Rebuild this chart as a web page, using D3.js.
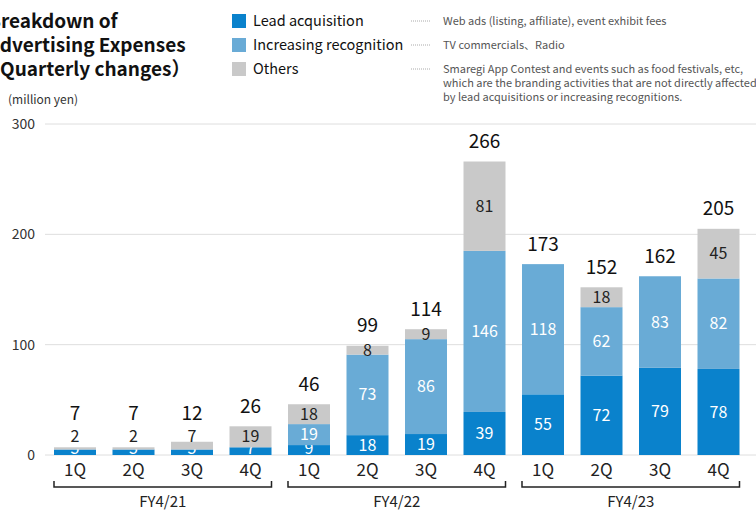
<!DOCTYPE html>
<html><head><meta charset="utf-8">
<script src="https://cdn.jsdelivr.net/npm/d3@7"></script>
<style>
html,body{margin:0;padding:0;background:#fff;}
svg{display:block;font-family:"Noto Sans CJK JP","Noto Sans",sans-serif;}
</style></head>
<body><svg id="c" width="756" height="512"></svg>
<script>
const quarters = ["1Q","2Q","3Q","4Q","1Q","2Q","3Q","4Q","1Q","2Q","3Q","4Q"];
const fiscalYears = ["FY4/21","FY4/22","FY4/23"];
const leadAcq = [5,5,5,7,9,18,19,39,55,72,79,78];
const recog = [0,0,0,0,19,73,86,146,118,62,83,82];
const others = [2,2,7,19,18,8,9,81,0,18,0,45];
const totals = [7,7,12,26,46,99,114,266,173,152,162,205];
const yTicks = [0,100,200,300];
const seriesNames = ["Lead acquisition","Increasing recognition","Others"];
const seriesDesc = [
  ["Web ads (listing, affiliate), event exhibit fees"],
  ["TV commercials、Radio"],
  ["Smaregi App Contest and events such as food festivals, etc,",
   "which are the branding activities that are not directly affected",
   "by lead acquisitions or increasing recognitions."]
];
const colors = ["#0a82cc","#69abd6","#c9c9c9"];
const labelColors = ["#ffffff","#ffffff","#222222"];

const svg = d3.select("#c");
const idx = d3.range(quarters.length);
const x = d3.scaleBand().domain(idx).range([45.75,747.75]).paddingInner(0.282).paddingOuter(0.141);
const y = d3.scaleLinear().domain([0,300]).range([455,124]);

// gridlines
svg.append("g").selectAll("line").data(yTicks).join("line")
  .attr("x1",45).attr("x2",756).attr("y1",d=>y(d)).attr("y2",d=>y(d))
  .attr("stroke","#dedede").attr("stroke-width",1);
svg.append("g").selectAll("text").data(yTicks).join("text")
  .attr("x",35).attr("y",d=>y(d)).attr("dy","0.35em").attr("text-anchor","end")
  .attr("font-size",14).attr("fill","#333").text(d=>d);

svg.append("text").attr("x",8).attr("y",100).attr("dy","0.35em")
  .attr("font-size",12).attr("fill","#333").text("(million yen)");

// stacked bars
const table = idx.map(i=>({i, s0:leadAcq[i], s1:recog[i], s2:others[i]}));
const stack = d3.stack().keys(["s0","s1","s2"])(table);
const lastLabelY = idx.map(()=>Infinity);
stack.forEach((layer,k)=>{
  const g = svg.append("g");
  g.selectAll("rect").data(layer).join("rect")
    .attr("x",d=>x(d.data.i)).attr("width",x.bandwidth())
    .attr("y",d=>y(d[1])).attr("height",d=>y(d[0])-y(d[1]))
    .attr("fill",colors[k]);
  const shown = layer.filter(d=>d[1]-d[0]>0).map(d=>{
    const i = d.data.i;
    const ly = Math.min((y(d[0])+y(d[1]))/2, y(0)-7, lastLabelY[i]-12);
    lastLabelY[i] = ly;
    return {d, ly};
  });
  g.selectAll("text").data(shown).join("text")
    .attr("x",o=>x(o.d.data.i)+x.bandwidth()/2)
    .attr("y",o=>o.ly)
    .attr("dy","0.35em").attr("text-anchor","middle")
    .attr("font-size",16).attr("fill",labelColors[k])
    .text(o=>o.d[1]-o.d[0]);
});

// totals
svg.append("g").selectAll("text").data(idx).join("text")
  .attr("x",i=>x(i)+x.bandwidth()/2)
  .attr("y",i=>Math.min(y(totals[i])-20, y(0)-42))
  .attr("dy","0.35em").attr("text-anchor","middle")
  .attr("font-size",19).attr("fill","#111").text(i=>totals[i]);

// quarter labels
svg.append("g").selectAll("text").data(idx).join("text")
  .attr("x",i=>x(i)+x.bandwidth()/2).attr("y",470).attr("dy","0.35em")
  .attr("text-anchor","middle").attr("font-size",17).attr("fill","#222")
  .text(i=>quarters[i]);

// brackets
fiscalYears.forEach((fy,j)=>{
  const x0 = x(j*4), x1 = x(j*4+3)+x.bandwidth();
  svg.append("path").attr("d",`M${x0},481V487H${x1}V481`)
    .attr("fill","none").attr("stroke","#222").attr("stroke-width",1.5);
  svg.append("text").attr("x",(x0+x1)/2).attr("y",502).attr("dy","0.35em")
    .attr("text-anchor","middle").attr("font-size",15).attr("fill","#222").text(fy);
});

// title
const titleLines = [["Breakdown of",-12],["Advertising Expenses",-12.5],["（Quarterly changes）",-19]];
titleLines.forEach((t,k)=>{
  svg.append("text").attr("x",t[1]).attr("y",21+k*24).attr("dy","0.35em")
    .attr("font-size",19).attr("font-weight","bold").attr("fill","#111").text(t[0]);
});

// legend
seriesNames.forEach((n,k)=>{
  const cy = 21+k*24;
  svg.append("rect").attr("x",232).attr("y",cy-7).attr("width",14).attr("height",14).attr("fill",colors[k]);
  svg.append("text").attr("x",253).attr("y",cy).attr("dy","0.35em")
    .attr("font-size",14.5).attr("fill","#111").text(n);
  svg.append("line").attr("x1",411).attr("x2",430).attr("y1",cy).attr("y2",cy)
    .attr("stroke","#aaa").attr("stroke-width",1).attr("stroke-dasharray","1,1");
  seriesDesc[k].forEach((line,m)=>{
    svg.append("text").attr("x",443).attr("y",cy+m*14).attr("dy","0.35em")
      .attr("font-size",11).attr("fill","#555").text(line);
  });
});
</script></body></html>
